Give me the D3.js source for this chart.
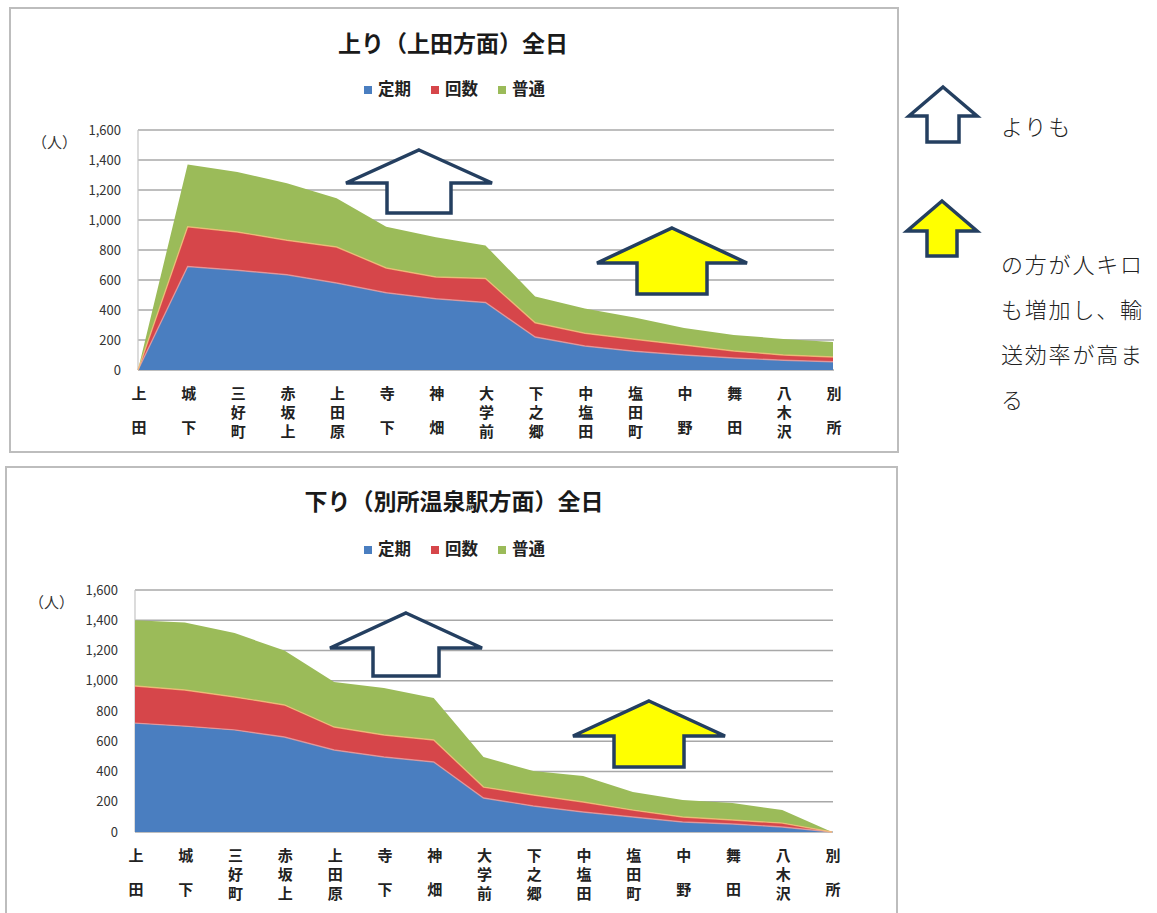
<!DOCTYPE html>
<html>
<head>
<meta charset="utf-8">
<script src="https://cdn.jsdelivr.net/npm/d3@7"></script>
<style>
  html, body { margin: 0; padding: 0; background: #fff; }
  svg { display: block; }
  text { font-family: "Noto Sans CJK JP", "Noto Sans", sans-serif; }
</style>
</head>
<body>
<svg id="chart" width="1157" height="913"></svg>
<script>
// Stations along the line (category axis)
const stations = ["上田","城下","三好町","赤坂上","上田原","寺下","神畑","大学前","下之郷","中塩田","塩田町","中野","舞田","八木沢","別所"];
const seriesNames = ["定期","回数","普通"];
const seriesColors = ["#4A7EC0","#D6464A","#9BBB59"];
const yTicks = [0,200,400,600,800,1000,1200,1400,1600];

// 上り (上田方面) passengers by ticket type
const upTeiki = [0,690,665,635,580,515,475,450,220,160,125,100,80,65,55];
const upKaisu = [0,265,255,230,240,165,145,160,95,85,80,67,47,35,32];
const upFutsu = [0,415,400,380,325,275,265,220,175,165,145,113,107,107,100];

// 下り (別所温泉駅方面) passengers by ticket type
const downTeiki = [720,700,675,628,542,496,463,225,172,132,99,66,53,33,0];
const downKaisu = [245,239,218,212,152,145,145,72,73,66,46,33,26,26,0];
const downFutsu = [435,446,422,360,298,311,278,199,158,172,119,112,112,86,0];

const svg = d3.select("#chart");

function drawChart(opt) {
  const g = svg.append("g");

  // chart frame
  g.append("rect")
    .attr("x", opt.frame[0]).attr("y", opt.frame[1])
    .attr("width", opt.frame[2]).attr("height", opt.frame[3])
    .attr("fill", "#fff").attr("stroke", "#bdbdbd").attr("stroke-width", 2);

  const x = d3.scalePoint().domain(stations).range([opt.left, opt.right]);
  const y = d3.scaleLinear().domain([0, 1600]).range([opt.bottom, opt.top]);

  // horizontal gridlines
  g.append("g").selectAll("line").data(yTicks).join("line")
    .attr("x1", opt.left).attr("x2", opt.right + 1)
    .attr("y1", d => y(d)).attr("y2", d => y(d))
    .attr("stroke", "#a8a8a8").attr("stroke-width", 1.6);

  // vertical axis line
  g.append("line")
    .attr("x1", opt.left).attr("x2", opt.left)
    .attr("y1", y(1600)).attr("y2", y(0))
    .attr("stroke", "#c4c4c4").attr("stroke-width", 1.2);

  // stacked areas
  const rows = stations.map((s, i) => ({
    station: s,
    "定期": opt.values[0][i], "回数": opt.values[1][i], "普通": opt.values[2][i]
  }));
  const stacked = d3.stack().keys(seriesNames)(rows);
  const area = d3.area()
    .x(d => x(d.data.station))
    .y0(d => y(d[0]))
    .y1(d => y(d[1]));
  const topLine = d3.line()
    .x(d => x(d.data.station))
    .y(d => y(d[1]));

  g.append("g").selectAll("path").data(stacked).join("path")
    .attr("d", area)
    .attr("fill", (d, i) => seriesColors[i]);

  // light seams along the top of the lower layers
  g.append("g").selectAll("path").data(stacked.slice(0, 2)).join("path")
    .attr("d", topLine)
    .attr("fill", "none")
    .attr("stroke", (d, i) => i === 0 ? "rgba(235,160,160,0.75)" : "rgba(245,190,120,0.8)")
    .attr("stroke-width", 1.4);

  // y tick labels
  g.append("g").selectAll("text").data(yTicks).join("text")
    .attr("x", opt.left - 17).attr("y", d => y(d))
    .attr("dy", "0.36em")
    .attr("text-anchor", "end")
    .attr("font-family", "Liberation Sans, sans-serif")
    .attr("font-size", 13).attr("fill", "#333")
    .text(d => d3.format(",")(d));

  // unit label
  g.append("text")
    .attr("x", opt.left - 106).attr("y", y(1600) + 13)
    .attr("dy", "0.36em")
    .attr("font-size", 15).attr("fill", "#333")
    .text("（人）");

  // vertical station labels, one character per line
  const xl = g.append("g");
  stations.forEach(s => {
    const chars = Array.from(s);
    const offs = chars.length === 2 ? [0, 34] : [0, 19, 38];
    chars.forEach((c, k) => {
      xl.append("text")
        .attr("x", x(s) + 1)
        .attr("y", y(0) + 24 + offs[k])
        .attr("dy", "0.36em")
        .attr("text-anchor", "middle")
        .attr("font-size", 15).attr("font-weight", 700).attr("fill", "#222")
        .text(c);
    });
  });

  // title
  g.append("text")
    .attr("x", opt.titleX).attr("y", opt.titleY)
    .attr("dy", "0.36em")
    .attr("text-anchor", "middle")
    .attr("font-size", 23).attr("font-weight", 700).attr("fill", "#1a1a1a")
    .text(opt.title);

  // legend
  const lg = g.append("g");
  const legendX = [368, 435, 502];
  seriesNames.forEach((n, i) => {
    lg.append("rect")
      .attr("x", legendX[i] - 4).attr("y", opt.legendY - 3)
      .attr("width", 8).attr("height", 8)
      .attr("fill", seriesColors[i]);
    lg.append("text")
      .attr("x", legendX[i] + 10).attr("y", opt.legendY)
      .attr("dy", "0.36em")
      .attr("font-size", 16.5).attr("font-weight", 700).attr("fill", "#222")
      .text(n);
  });
}

// up-arrow outline shape
function upArrow(cx, tipY, headHalf, headY, shaftHalf, bottomY) {
  return [
    [cx, tipY], [cx + headHalf, headY], [cx + shaftHalf, headY],
    [cx + shaftHalf, bottomY], [cx - shaftHalf, bottomY],
    [cx - shaftHalf, headY], [cx - headHalf, headY]
  ];
}
function drawArrow(pts, fill, sw) {
  svg.append("polygon")
    .attr("points", pts.map(p => p.join(",")).join(" "))
    .attr("fill", fill)
    .attr("stroke", "#243F60")
    .attr("stroke-width", sw)
    .attr("stroke-linejoin", "miter");
}

drawChart({
  frame: [10, 8, 888, 444],
  left: 138, right: 833, top: 130, bottom: 370,
  title: "上り（上田方面）全日", titleX: 453, titleY: 44,
  legendY: 89,
  values: [upTeiki, upKaisu, upFutsu]
});

drawChart({
  frame: [6, 467, 891, 470],
  left: 135, right: 832, top: 590, bottom: 832,
  title: "下り（別所温泉駅方面）全日", titleX: 454, titleY: 502,
  legendY: 549,
  values: [downTeiki, downKaisu, downFutsu]
});

// arrows on the charts
drawArrow(upArrow(419, 150, 73, 183, 32, 213), "#fff", 3.5);
drawArrow(upArrow(672, 228, 75, 263, 35, 294), "#FFFF00", 3.5);
drawArrow(upArrow(406, 613, 76, 648, 33, 676), "#fff", 3.5);
drawArrow(upArrow(649, 701, 76, 736, 35, 767), "#FFFF00", 3.5);

// arrows in the side note
drawArrow(upArrow(943, 87, 34, 116, 16, 142), "#fff", 3.5);
drawArrow(upArrow(942, 201, 35, 231, 15, 256), "#FFFF00", 3.5);

// side note text
const note = svg.append("g")
  .attr("font-size", 22).attr("font-weight", 300).attr("fill", "#222").attr("letter-spacing", 1.8);
note.append("text").attr("x", 1001).attr("y", 127).attr("dy", "0.36em").text("よりも");
["の方が人キロ", "も増加し、輸", "送効率が高ま", "る"].forEach((t, i) => {
  note.append("text").attr("x", 1001).attr("y", 265 + i * 45).attr("dy", "0.36em").text(t);
});
</script>
</body>
</html>
